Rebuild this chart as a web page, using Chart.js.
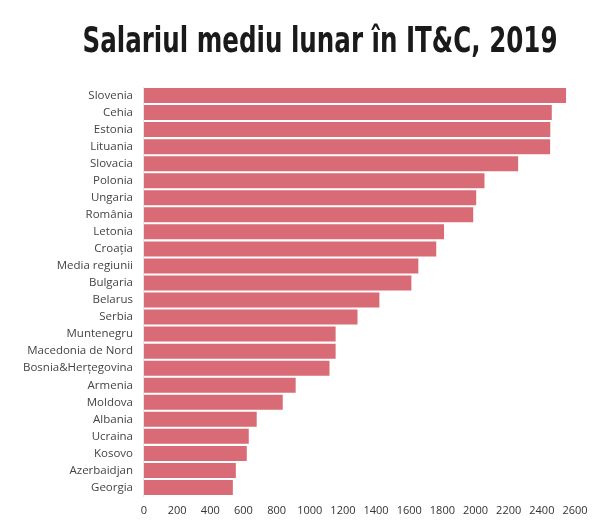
<!DOCTYPE html>
<html>
<head>
<meta charset="utf-8">
<script src="https://cdn.jsdelivr.net/npm/chart.js@4"></script>
<style>
  html, body { margin: 0; padding: 0; background: #fff; }
  #wrap { width: 598px; height: 522px; }
</style>
</head>
<body>
<div id="wrap"><canvas id="grafic"></canvas></div>
<script>
// Tarile, in ordinea din grafic
const tari = ['Slovenia', 'Cehia', 'Estonia', 'Lituania', 'Slovacia', 'Polonia', 'Ungaria', 'România',
  'Letonia', 'Croația', 'Media regiunii', 'Bulgaria', 'Belarus', 'Serbia', 'Muntenegru',
  'Macedonia de Nord', 'Bosnia&Herțegovina', 'Armenia', 'Moldova', 'Albania', 'Ucraina',
  'Kosovo', 'Azerbaidjan', 'Georgia'];

// Salariul mediu lunar
const salarii = [2546, 2460, 2451, 2450, 2257, 2054, 2004, 1986, 1810, 1763, 1655, 1613,
  1420, 1288, 1156, 1156, 1119, 915, 837, 680, 632, 620, 554, 536];

const axaMax = 2600;
const pasAxa = 200;

const titlu = 'Salariul mediu lunar în IT&C, 2019';
const culoare = '#d96b76';

// titlul e desenat de mana, ca sa fie centrat ca in original si putin ingustat
const pluginTitlu = {
  id: 'titlu',
  afterDraw(chart) {
    const ctx = chart.ctx;
    ctx.save();
    ctx.font = "bold 36px 'Liberation Sans Narrow', 'DejaVu Sans Condensed', sans-serif";
    ctx.fillStyle = '#1a1a1a';
    ctx.textAlign = 'center';
    ctx.textBaseline = 'middle';
    const w = ctx.measureText(titlu).width;
    const k = Math.min(1, 475 / w);
    ctx.translate(320, 43);
    ctx.scale(k, 1);
    ctx.fillText(titlu, 0, 0);
    ctx.restore();
  }
};

new Chart(document.getElementById('grafic'), {
  type: 'bar',
  data: {
    labels: tari,
    datasets: [{
      data: salarii,
      backgroundColor: culoare,
      borderWidth: 0,
      barPercentage: 0.88,
      categoryPercentage: 1
    }]
  },
  options: {
    indexAxis: 'y',
    responsive: true,
    maintainAspectRatio: false,
    animation: false,
    layout: { padding: { top: 87, left: 12, right: 23, bottom: 0 } },
    plugins: {
      legend: { display: false },
      tooltip: { enabled: false },
      title: { display: false }
    },
    scales: {
      x: {
        min: 0,
        max: axaMax,
        afterFit: (scale) => { scale.height = 26; },
        grid: { display: false, drawTicks: false },
        border: { display: false },
        ticks: {
          stepSize: pasAxa,
          maxRotation: 0,
          autoSkip: false,
          padding: 8,
          color: '#333',
          font: { family: "'Open Sans', sans-serif", size: 11 },
          callback: (v) => String(v)
        }
      },
      y: {
        grid: { display: false, drawTicks: false },
        border: { display: true, color: '#e6e6e6', width: 1 },
        ticks: {
          autoSkip: false,
          padding: 11,
          color: '#444',
          font: { family: "'Open Sans', sans-serif", size: 11.5 }
        }
      }
    }
  },
  plugins: [pluginTitlu]
});
</script>
</body>
</html>
